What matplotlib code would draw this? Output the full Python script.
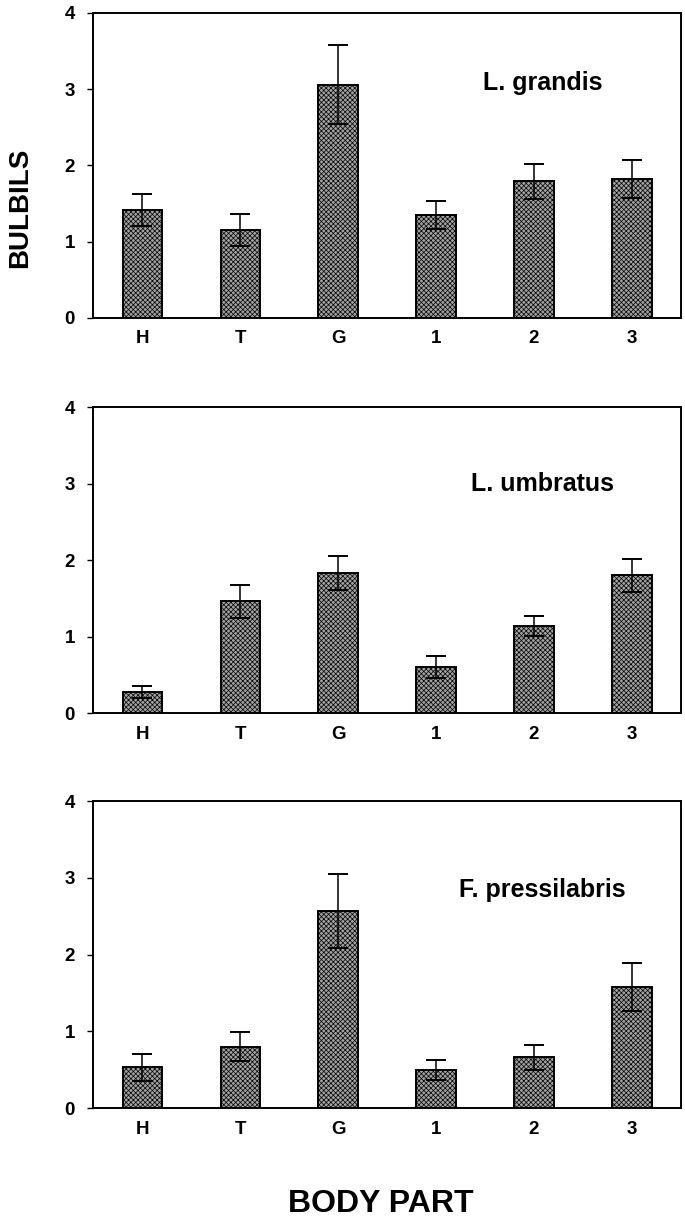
import numpy as np
import matplotlib.pyplot as plt

plt.rcParams['font.family'] = ['Liberation Sans', 'DejaVu Sans']
plt.rcParams['hatch.color'] = '#5a5a5a'
plt.rcParams['hatch.linewidth'] = 0.5

parts = ['H', 'T', 'G', '1', '2', '3']
species = ['L. grandis', 'L. umbratus', 'F. pressilabris']

# mean bulbil counts per body part
grandis = [1.42, 1.15, 3.06, 1.35, 1.79, 1.82]
umbratus = [0.27, 1.46, 1.83, 0.60, 1.14, 1.80]
pressilabris = [0.53, 0.80, 2.57, 0.50, 0.66, 1.58]

# standard errors
grandis_err = [0.21, 0.21, 0.52, 0.18, 0.23, 0.25]
umbratus_err = [0.08, 0.22, 0.22, 0.14, 0.13, 0.22]
pressilabris_err = [0.18, 0.19, 0.48, 0.13, 0.16, 0.31]

means = [grandis, umbratus, pressilabris]
errs = [grandis_err, umbratus_err, pressilabris_err]

fig = plt.figure(figsize=(6.85, 12.23), dpi=100)
boxes = [[0.136, 0.740, 0.858, 0.2495],
         [0.136, 0.417, 0.858, 0.250],
         [0.136, 0.094, 0.858, 0.251]]
label_y = [0.77, 0.75, 0.71]

x = np.arange(len(parts))
for k in range(3):
    ax = fig.add_axes(boxes[k])
    ax.bar(x, means[k], width=0.4, color='#a2a2a2', edgecolor='black',
           linewidth=1.4, hatch='xxxxxxx', zorder=2)
    ax.errorbar(x, means[k], yerr=errs[k], fmt='none', ecolor='black',
                elinewidth=1.1, capsize=7.5, capthick=1.4, zorder=3)
    ax.set_xlim(-0.5, 5.5)
    ax.set_ylim(0, 4)
    ax.set_yticks([0, 1, 2, 3, 4])
    ax.set_xticks(x)
    ax.set_xticklabels(parts)
    ax.tick_params(axis='x', length=0, pad=9)
    ax.tick_params(axis='y', length=4, width=1, pad=9)
    for lab in ax.get_xticklabels() + ax.get_yticklabels():
        lab.set_fontweight('bold')
        lab.set_fontsize(13.5)
    for s in ax.spines.values():
        s.set_linewidth(1.4)
    ax.text(0.765, label_y[k], species[k], transform=ax.transAxes,
            ha='center', va='center', fontsize=18, fontweight='bold')

fig.text(0.03, 0.83, 'BULBILS', rotation=90, ha='center', va='center',
         fontsize=20, fontweight='bold')
fig.text(0.556, 0.0155, 'BODY PART', ha='center', va='center',
         fontsize=23, fontweight='bold')

fig.savefig('out.png', dpi=100)
